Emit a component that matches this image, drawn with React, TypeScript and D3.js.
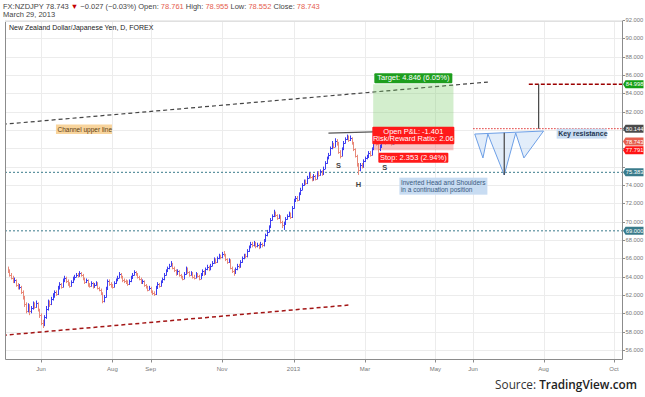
import * as d3 from "d3"
import { useRef, useEffect } from "react"

// daily NZDJPY bars, May 4 2012 .. Mar 29 2013 (one value per weekday)
const closes = [
  64.6, 64.2, 63.9, 63.5, 63.6, 63.1, 62.8, 62.9, 62.3, 61.8,
  61.0, 60.3, 60.9, 60.2, 60.6, 61.0, 60.7, 61.1, 60.4, 59.8,
  59.0, 58.8, 59.6, 60.5, 61.2, 61.0, 61.6, 61.9, 62.3, 62.1,
  62.8, 63.2, 62.9, 63.6, 63.9, 63.5, 63.2, 63.0, 63.4, 63.8,
  64.0, 64.2, 64.1, 64.4, 64.2, 63.8, 63.4, 63.6, 63.1, 63.0,
  63.3, 62.9, 63.1, 63.3, 62.8, 62.6, 62.2, 61.4, 61.8, 62.7,
  63.5, 63.2, 63.0, 62.9, 63.3, 63.6, 63.9, 64.3, 64.0, 63.6,
  63.5, 63.4, 63.2, 63.5, 63.9, 64.2, 64.5, 64.3, 64.0, 63.8,
  63.4, 63.5, 63.1, 62.9, 62.6, 62.8, 62.4, 62.2, 62.1, 62.8,
  63.2, 63.0, 63.4, 63.7, 64.2, 64.6, 64.9, 65.2, 65.4, 65.0,
  64.7, 64.3, 64.6, 64.2, 64.0, 63.8, 64.3, 64.9, 64.5, 64.2,
  64.4, 64.0, 63.9, 64.3, 64.1, 63.8, 64.2, 64.6, 64.3, 64.8,
  65.1, 64.8, 65.2, 65.5, 65.9, 65.6, 66.0, 66.3, 66.1, 66.5,
  66.4, 65.9, 65.6, 65.8, 65.0, 64.6, 64.4, 64.8, 65.2, 65.1,
  65.6, 66.0, 66.3, 66.2, 66.8, 67.2, 67.6, 67.4, 67.7, 67.3,
  67.5, 67.2, 67.6, 67.4, 67.9, 68.5, 68.9, 69.4, 70.2, 70.6,
  71.0, 70.7, 70.4, 70.6, 70.0, 69.6, 69.8, 70.3, 70.6, 70.9,
  70.5, 71.5, 72.3, 72.6, 72.4, 73.0, 73.5, 74.0, 74.4, 74.2,
  74.8, 75.2, 74.9, 74.6, 75.0, 74.7, 75.3, 75.1, 75.5, 75.2,
  75.8, 76.4, 76.9, 77.3, 78.0, 78.5, 78.2, 78.8, 78.6, 77.6,
  77.2, 77.9, 78.6, 79.0, 79.3, 78.9, 79.1, 78.6, 77.9, 77.2,
  76.3, 75.6, 76.2, 76.0, 76.6, 76.9, 77.1, 77.5, 77.3, 77.9,
  79.2, 79.4, 78.5, 77.9, 78.2, 78.7, 79.0, 78.6, 78.9, 79.2,
  78.8, 78.5, 79.0, 78.6, 78.761, 78.743,
]
const highs = [
  65.1, 64.8, 64.4, 64.1, 63.9, 63.7, 63.3, 63.2, 63.0, 62.5,
  61.9, 61.2, 61.1, 61.0, 60.8, 61.3, 61.2, 61.4, 61.2, 60.5,
  60.0, 59.3, 59.8, 60.8, 61.5, 61.4, 61.8, 62.2, 62.5, 62.5,
  63.0, 63.4, 63.3, 63.8, 64.1, 64.0, 63.7, 63.4, 63.6, 64.0,
  64.2, 64.4, 64.4, 64.6, 64.5, 64.3, 63.9, 63.8, 63.7, 63.3,
  63.5, 63.4, 63.3, 63.5, 63.4, 62.9, 62.7, 62.3, 62.0, 62.9,
  63.7, 63.7, 63.4, 63.2, 63.5, 63.8, 64.1, 64.5, 64.4, 64.1,
  63.8, 63.7, 63.6, 63.7, 64.1, 64.4, 64.7, 64.6, 64.4, 64.1,
  63.9, 63.7, 63.6, 63.2, 63.0, 63.0, 62.9, 62.5, 62.4, 63.0,
  63.4, 63.3, 63.6, 63.9, 64.4, 64.8, 65.1, 65.4, 65.7, 65.5,
  65.1, 64.8, 64.8, 64.7, 64.3, 64.1, 64.5, 65.1, 65.0, 64.6,
  64.6, 64.5, 64.2, 64.5, 64.4, 64.2, 64.4, 64.8, 64.7, 65.0,
  65.3, 65.2, 65.4, 65.7, 66.1, 66.0, 66.2, 66.5, 66.4, 66.7,
  66.8, 66.5, 66.0, 66.0, 65.9, 65.1, 64.8, 65.0, 65.4, 65.4,
  65.8, 66.2, 66.5, 66.5, 67.0, 67.4, 67.8, 67.8, 67.9, 67.8,
  67.7, 67.6, 67.8, 67.7, 68.1, 68.7, 69.1, 69.6, 70.4, 70.8,
  71.3, 71.1, 70.8, 70.8, 70.7, 70.1, 70.0, 70.5, 70.8, 71.1,
  71.0, 71.7, 72.5, 72.8, 72.8, 73.2, 73.7, 74.2, 74.6, 74.6,
  75.0, 75.4, 75.3, 75.0, 75.2, 75.1, 75.5, 75.5, 75.7, 75.6,
  76.0, 76.6, 77.1, 77.5, 78.2, 78.8, 78.6, 79.1, 79.0, 78.7,
  77.8, 78.1, 78.8, 79.2, 79.5, 79.4, 79.4, 79.2, 78.7, 78.0,
  77.3, 76.4, 76.4, 76.4, 76.8, 77.1, 77.3, 77.7, 77.7, 78.1,
  79.4, 79.8, 79.5, 78.6, 78.4, 78.9, 79.2, 79.1, 79.1, 79.4,
  79.3, 78.9, 79.2, 79.1, 78.9, 78.955,
]
const lows = [
  64.4, 64.0, 63.7, 63.3, 63.3, 62.9, 62.6, 62.6, 62.1, 61.5,
  60.7, 60.0, 60.1, 59.8, 60.0, 60.4, 60.5, 60.6, 60.2, 59.5,
  58.7, 58.4, 58.6, 59.4, 60.3, 60.7, 60.9, 61.4, 61.7, 61.9,
  62.0, 62.6, 62.7, 62.8, 63.4, 63.3, 63.0, 62.8, 62.9, 63.3,
  63.6, 63.9, 63.9, 64.0, 64.0, 63.6, 63.2, 63.3, 62.9, 62.8,
  62.9, 62.7, 62.8, 63.0, 62.6, 62.4, 62.0, 61.1, 61.2, 61.7,
  62.6, 63.0, 62.8, 62.7, 62.8, 63.2, 63.5, 63.8, 63.8, 63.4,
  63.3, 63.2, 63.0, 63.1, 63.4, 63.8, 64.1, 64.1, 63.8, 63.6,
  63.2, 63.2, 62.9, 62.7, 62.4, 62.5, 62.2, 62.0, 61.9, 62.0,
  62.7, 62.8, 62.9, 63.3, 63.6, 64.1, 64.5, 64.8, 65.1, 64.8,
  64.5, 64.1, 64.2, 64.0, 63.8, 63.6, 63.7, 64.2, 64.3, 64.0,
  64.1, 63.8, 63.7, 63.8, 63.9, 63.6, 63.7, 64.1, 64.1, 64.2,
  64.7, 64.6, 64.7, 65.1, 65.4, 65.4, 65.5, 65.9, 65.9, 66.0,
  66.2, 65.7, 65.4, 65.5, 64.8, 64.4, 64.1, 64.3, 64.7, 64.9,
  65.0, 65.5, 65.9, 66.0, 66.1, 66.7, 67.1, 67.2, 67.3, 67.1,
  67.2, 67.0, 67.1, 67.2, 67.3, 67.8, 68.4, 68.8, 69.3, 70.1,
  70.5, 70.5, 70.2, 70.3, 69.8, 69.3, 69.1, 69.7, 70.2, 70.5,
  70.3, 70.4, 71.4, 72.2, 72.2, 72.3, 72.9, 73.4, 73.9, 74.0,
  74.1, 74.7, 74.7, 74.4, 74.5, 74.5, 74.6, 74.9, 75.0, 75.0,
  75.1, 75.7, 76.3, 76.8, 77.2, 77.9, 78.0, 78.1, 78.3, 77.4,
  76.9, 77.1, 77.8, 78.5, 78.9, 78.7, 78.8, 78.4, 77.7, 77.0,
  76.0, 75.1, 75.5, 75.8, 75.9, 76.5, 76.8, 77.0, 77.1, 77.2,
  77.8, 79.0, 78.3, 77.5, 77.7, 78.1, 78.6, 78.4, 78.5, 78.8,
  78.6, 78.3, 78.4, 78.4, 78.5, 78.552,
]
const firstOpen = 64.9
const firstBarDate = "2012-05-04"

// time axis
const tickDates = [
  "2012-06-01", "2012-08-01", "2012-09-03", "2012-11-01", "2013-01-01",
  "2013-03-01", "2013-05-01", "2013-06-03", "2013-08-01", "2013-10-01",
]
const tickLabels = ["Jun", "Aug", "Sep", "Nov", "2013", "Mar", "May", "Jun", "Aug", "Oct"]
const priceTicks = d3.range(56, 93, 2)

// levels marked on the price scale
const priceLabels = [
  { value: 84.998, color: "#16a016" },
  { value: 80.144, color: "#4b4b4b" },
  { value: 78.743, color: "#e5604f" },
  { value: 77.791, color: "#ff1414" },
  { value: 75.383, color: "#3a7b8b" },
  { value: 69.0, color: "#3a7b8b" },
]
const supportLevels = [75.383, 69.0]

// drawings
const channelUpper = [
  { date: "2012-05-01", price: 80.62 },
  { date: "2013-06-14", price: 85.23 },
]
const channelLower = [
  { date: "2012-05-01", price: 57.6 },
  { date: "2013-02-15", price: 60.9 },
]
const neckline = [
  { date: "2013-01-30", price: 79.67 },
  { date: "2013-03-08", price: 79.8 },
]
const position = { start: "2013-03-08", end: "2013-05-16", entry: 80.144, target: 84.99, stop: 77.791 }
const patternPoints = [
  { date: "2013-06-04", price: 79.56 },
  { date: "2013-06-11", price: 76.95 },
  { date: "2013-06-14", price: 79.56 },
  { date: "2013-06-28", price: 75.09 },
  { date: "2013-07-09", price: 79.67 },
  { date: "2013-07-16", price: 76.95 },
  { date: "2013-08-01", price: 79.89 },
]
const shoulderMarks = [
  { date: "2013-02-07", price: 75.85, text: "S" },
  { date: "2013-02-25", price: 73.75, text: "H" },
  { date: "2013-03-19", price: 75.6, text: "S" },
]

const weekday = d3.timeDay.filter((d) => d.getDay() > 0 && d.getDay() < 6)
const origin = new Date(2012, 5, 1)
const toDate = (s: string) => new Date(s + "T00:00:00")
const dayIndex = (s: string) => {
  const d = toDate(s)
  return d >= origin ? weekday.range(origin, d).length : -weekday.range(d, origin).length
}

export default function App() {
  const svgRef = useRef<SVGSVGElement>(null)
  const width = 645
  const height = 397
  const left = 5
  const right = 622
  const top = 21
  const bottom = 359

  useEffect(() => {
    if (!svgRef.current) return
    const svg = d3.select(svgRef.current)
    svg.selectAll("*").remove()
    const font = "'Liberation Sans', Arial, sans-serif"

    const x = d3
      .scaleLinear()
      .domain([0, dayIndex("2013-03-01"), dayIndex("2013-10-01")])
      .range([41, 365, 614])
    const y = d3.scaleLinear().domain([56, 92]).range([350, 20])
    const xd = (s: string) => x(dayIndex(s))

    svg.append("rect").attr("width", width).attr("height", height).attr("fill", "#fff")

    svg
      .append("defs")
      .append("clipPath")
      .attr("id", "plot")
      .append("rect")
      .attr("x", left)
      .attr("y", top)
      .attr("width", right - left)
      .attr("height", bottom - top)

    // grid
    const grid = svg.append("g").attr("stroke", "#ececec").attr("stroke-width", 1)
    grid
      .selectAll("line.h")
      .data(priceTicks)
      .join("line")
      .attr("x1", left)
      .attr("x2", right)
      .attr("y1", (d) => Math.round(y(d)) + 0.5)
      .attr("y2", (d) => Math.round(y(d)) + 0.5)
    grid
      .selectAll("line.v")
      .data(tickDates)
      .join("line")
      .attr("x1", (d) => Math.round(xd(d)) + 0.5)
      .attr("x2", (d) => Math.round(xd(d)) + 0.5)
      .attr("y1", top)
      .attr("y2", bottom)

    const plot = svg.append("g").attr("clip-path", "url(#plot)")
    const line = d3
      .line<{ date: string; price: number }>()
      .x((d) => xd(d.date))
      .y((d) => y(d.price))

    // channel
    plot
      .append("path")
      .attr("d", line(channelUpper))
      .attr("fill", "none")
      .attr("stroke", "#444")
      .attr("stroke-width", 1.2)
      .attr("stroke-dasharray", "4,3")
    plot
      .append("path")
      .attr("d", line(channelLower))
      .attr("fill", "none")
      .attr("stroke", "#a31515")
      .attr("stroke-width", 1.5)
      .attr("stroke-dasharray", "4,3")

    // horizontal levels
    for (const v of supportLevels) {
      plot
        .append("line")
        .attr("x1", left)
        .attr("x2", right)
        .attr("y1", y(v))
        .attr("y2", y(v))
        .attr("stroke", "#3a7b8b")
        .attr("stroke-dasharray", "2,2")
    }
    plot
      .append("line")
      .attr("x1", xd("2013-06-03"))
      .attr("x2", right)
      .attr("y1", y(80.144))
      .attr("y2", y(80.144))
      .attr("stroke", "#e03030")
      .attr("stroke-dasharray", "1.5,1.5")
    plot
      .append("line")
      .attr("x1", xd("2013-07-19"))
      .attr("x2", right)
      .attr("y1", y(84.998))
      .attr("y2", y(84.998))
      .attr("stroke", "#9c0000")
      .attr("stroke-width", 1.5)
      .attr("stroke-dasharray", "4,2")
    plot
      .append("line")
      .attr("x1", xd("2013-07-29"))
      .attr("x2", xd("2013-07-29"))
      .attr("y1", y(84.998))
      .attr("y2", y(80.144))
      .attr("stroke", "#444")
      .attr("stroke-width", 1.2)

    // long position
    const px0 = xd(position.start)
    const px1 = xd(position.end)
    plot
      .append("rect")
      .attr("x", px0)
      .attr("y", y(position.target))
      .attr("width", px1 - px0)
      .attr("height", y(position.entry) - y(position.target))
      .attr("fill", "rgba(110,200,90,0.3)")
    plot
      .append("rect")
      .attr("x", px0)
      .attr("y", y(position.entry))
      .attr("width", px1 - px0)
      .attr("height", y(position.stop) - y(position.entry))
      .attr("fill", "rgba(240,90,90,0.35)")

    // bars
    const bars = closes.map((c, i) => ({
      i: dayIndex(firstBarDate) + i,
      o: i === 0 ? firstOpen : closes[i - 1],
      h: highs[i],
      l: lows[i],
      c,
    }))
    const barG = plot.append("g").attr("stroke-width", 1)
    const bar = barG
      .selectAll("g")
      .data(bars)
      .join("g")
      .attr("stroke", (d) => (d.c >= d.o ? "#3c3cf0" : "#e8897a"))
    bar
      .append("line")
      .attr("x1", (d) => Math.round(x(d.i)) + 0.5)
      .attr("x2", (d) => Math.round(x(d.i)) + 0.5)
      .attr("y1", (d) => y(d.h))
      .attr("y2", (d) => y(d.l))
    bar
      .append("line")
      .attr("x1", (d) => Math.round(x(d.i)) + 1)
      .attr("x2", (d) => Math.round(x(d.i)) + 2)
      .attr("y1", (d) => Math.round(y(d.c)) + 0.5)
      .attr("y2", (d) => Math.round(y(d.c)) + 0.5)

    // head and shoulders drawing
    plot
      .append("path")
      .attr("d", line(patternPoints) + "Z")
      .attr("fill", "rgba(160,195,240,0.3)")
      .attr("stroke", "#6d9fe6")
      .attr("stroke-width", 1)
    plot
      .append("line")
      .attr("x1", xd("2013-06-28"))
      .attr("x2", xd("2013-06-28"))
      .attr("y1", y(79.7))
      .attr("y2", y(75.09))
      .attr("stroke", "#444")
      .attr("stroke-width", 1.2)
    plot
      .append("path")
      .attr("d", line(neckline))
      .attr("stroke", "#555")
      .attr("stroke-width", 1.3)
      .attr("fill", "none")

    plot
      .selectAll("text.mark")
      .data(shoulderMarks)
      .join("text")
      .attr("x", (d) => xd(d.date))
      .attr("y", (d) => y(d.price))
      .attr("text-anchor", "middle")
      .attr("font-family", font)
      .attr("font-size", 7.5)
      .attr("font-weight", "bold")
      .attr("fill", "#444")
      .text((d) => d.text)

    // text notes
    const note = (
      lx: number,
      ly: number,
      lines: string[],
      bg: string,
      fg: string,
      w: number,
      size: number,
      bold = false,
    ) => {
      const g = plot.append("g")
      g.append("rect")
        .attr("x", lx)
        .attr("y", ly)
        .attr("width", w)
        .attr("height", lines.length * (size + 1) + 2)
        .attr("fill", bg)
      lines.forEach((t, k) =>
        g
          .append("text")
          .attr("x", lx + 1.5)
          .attr("y", ly + (k + 1) * (size + 1) - 0.5)
          .attr("font-family", font)
          .attr("font-size", size)
          .attr("font-weight", bold ? "bold" : "normal")
          .attr("fill", fg)
          .text(t),
      )
    }
    note(xd("2012-06-14"), y(80.6), ["Channel upper line"], "#f8d49c", "#5a3b10", 56, 6.5)
    note(
      xd("2013-04-01"),
      y(74.8),
      ["Inverted Head and Shoulders", "in a continuation position"],
      "#c8dcf2",
      "#3a5a80",
      88,
      6.5,
    )
    note(xd("2013-08-13"), y(80.15), ["Key resistance"], "#c8dcf2", "#1d3550", 50, 7, true)

    // position labels
    const cx = (px0 + px1) / 2
    const badge = (lines: string[], yTop: number, w: number, color: string) => {
      const h = lines.length * 7.5 + 2.5
      svg
        .append("rect")
        .attr("x", cx - w / 2)
        .attr("y", yTop)
        .attr("width", w)
        .attr("height", h)
        .attr("rx", 1)
        .attr("fill", color)
      lines.forEach((t, k) =>
        svg
          .append("text")
          .attr("x", cx)
          .attr("y", yTop + 7.5 * (k + 1) - 0.5)
          .attr("text-anchor", "middle")
          .attr("font-family", font)
          .attr("font-size", 7.5)
          .attr("fill", "#fff")
          .text(t),
      )
      return h
    }
    badge(["Target: 4.846 (6.05%)"], y(position.target) - 11, 78, "#1e9e1e")
    badge(["Open P&L: -1.401", "Risk/Reward Ratio: 2.06"], y(position.entry) - 2, 82, "#ff1a1a")
    badge(["Stop: 2.353 (2.94%)"], y(position.stop) + 2.5, 70, "#ff1a1a")

    // frame & axes
    svg
      .append("path")
      .attr("d", `M${left + 0.5},${top}V${bottom + 0.5}H${right + 0.5}V${top}`)
      .attr("fill", "none")
      .attr("stroke", "#8c8c8c")
    svg
      .append("line")
      .attr("x1", left)
      .attr("x2", right)
      .attr("y1", top + 0.5)
      .attr("y2", top + 0.5)
      .attr("stroke", "#e0e0e0")

    // tick labels hidden behind the price-level badges
    const freeTicks = priceTicks.filter(
      (t) => !priceLabels.some((p) => Math.abs(y(t) - y(p.value)) < 6),
    )
    const yAxis = svg.append("g").attr("transform", `translate(${right + 0.5},0)`)
    yAxis
      .selectAll("line")
      .data(priceTicks)
      .join("line")
      .attr("x1", 0)
      .attr("x2", 2.5)
      .attr("y1", (d) => Math.round(y(d)) + 0.5)
      .attr("y2", (d) => Math.round(y(d)) + 0.5)
      .attr("stroke", "#8c8c8c")
    yAxis
      .selectAll("text")
      .data(freeTicks)
      .join("text")
      .attr("x", 3)
      .attr("y", (d) => y(d) + 2)
      .attr("font-family", font)
      .attr("font-size", 5.8)
      .attr("fill", "#777")
      .text((d) => d3.format(".3f")(d))

    const pl = yAxis.selectAll("g").data(priceLabels).join("g").attr("transform", (d) => `translate(0,${y(d.value)})`)
    pl.append("path").attr("d", "M0.5,0L3,-4H21V4H3Z").attr("fill", (d) => d.color)
    pl.append("text")
      .attr("x", 3.3)
      .attr("y", 2)
      .attr("font-family", font)
      .attr("font-size", 5.8)
      .attr("fill", "#fff")
      .text((d) => d3.format(".3f")(d.value))

    const xAxis = svg.append("g").attr("transform", `translate(0,${bottom + 0.5})`)
    xAxis
      .selectAll("line")
      .data(tickDates)
      .join("line")
      .attr("x1", (d) => Math.round(xd(d)) + 0.5)
      .attr("x2", (d) => Math.round(xd(d)) + 0.5)
      .attr("y1", 0)
      .attr("y2", 3)
      .attr("stroke", "#8c8c8c")
    xAxis
      .selectAll("text")
      .data(tickDates)
      .join("text")
      .attr("x", (d) => xd(d))
      .attr("y", 11)
      .attr("text-anchor", "middle")
      .attr("font-family", font)
      .attr("font-size", 6)
      .attr("fill", "#777")
      .text((_, k) => tickLabels[k])

    // header
    const head = svg
      .append("text")
      .attr("x", 3)
      .attr("y", 9)
      .attr("font-family", font)
      .attr("font-size", 7.5)
      .attr("fill", "#444")
    const parts: [string, string][] = [
      ["FX:NZDJPY 78.743 ", "#444"],
      ["▼", "#c40000"],
      [" −0.027 (−0.03%)  Open: ", "#444"],
      ["78.761", "#e5604f"],
      ["  High: ", "#444"],
      ["78.955", "#e5604f"],
      ["  Low: ", "#444"],
      ["78.552", "#e5604f"],
      ["  Close: ", "#444"],
      ["78.743", "#e5604f"],
    ]
    parts.forEach(([t, c]) => head.append("tspan").attr("fill", c).text(t))
    svg
      .append("text")
      .attr("x", 3)
      .attr("y", 17)
      .attr("font-family", font)
      .attr("font-size", 7.5)
      .attr("fill", "#444")
      .text("March 29, 2013")
    svg
      .append("text")
      .attr("x", 9)
      .attr("y", 30)
      .attr("font-family", font)
      .attr("font-size", 7)
      .attr("fill", "#222")
      .text("New Zealand Dollar/Japanese Yen, D, FOREX")

    const src = svg
      .append("text")
      .attr("x", 637)
      .attr("y", 389)
      .attr("text-anchor", "end")
      .attr("font-family", "'Open Sans', sans-serif")
      .attr("font-size", 11.8)
      .attr("fill", "#333")
    src.append("tspan").text("Source: ")
    src.append("tspan").attr("font-weight", 600).attr("fill", "#222").text("TradingView.com")
  }, [])

  return (
    <div style={{ position: "absolute", left: 0, top: 0, width, height }}>
      <svg ref={svgRef} width={width} height={height}></svg>
    </div>
  )
}
